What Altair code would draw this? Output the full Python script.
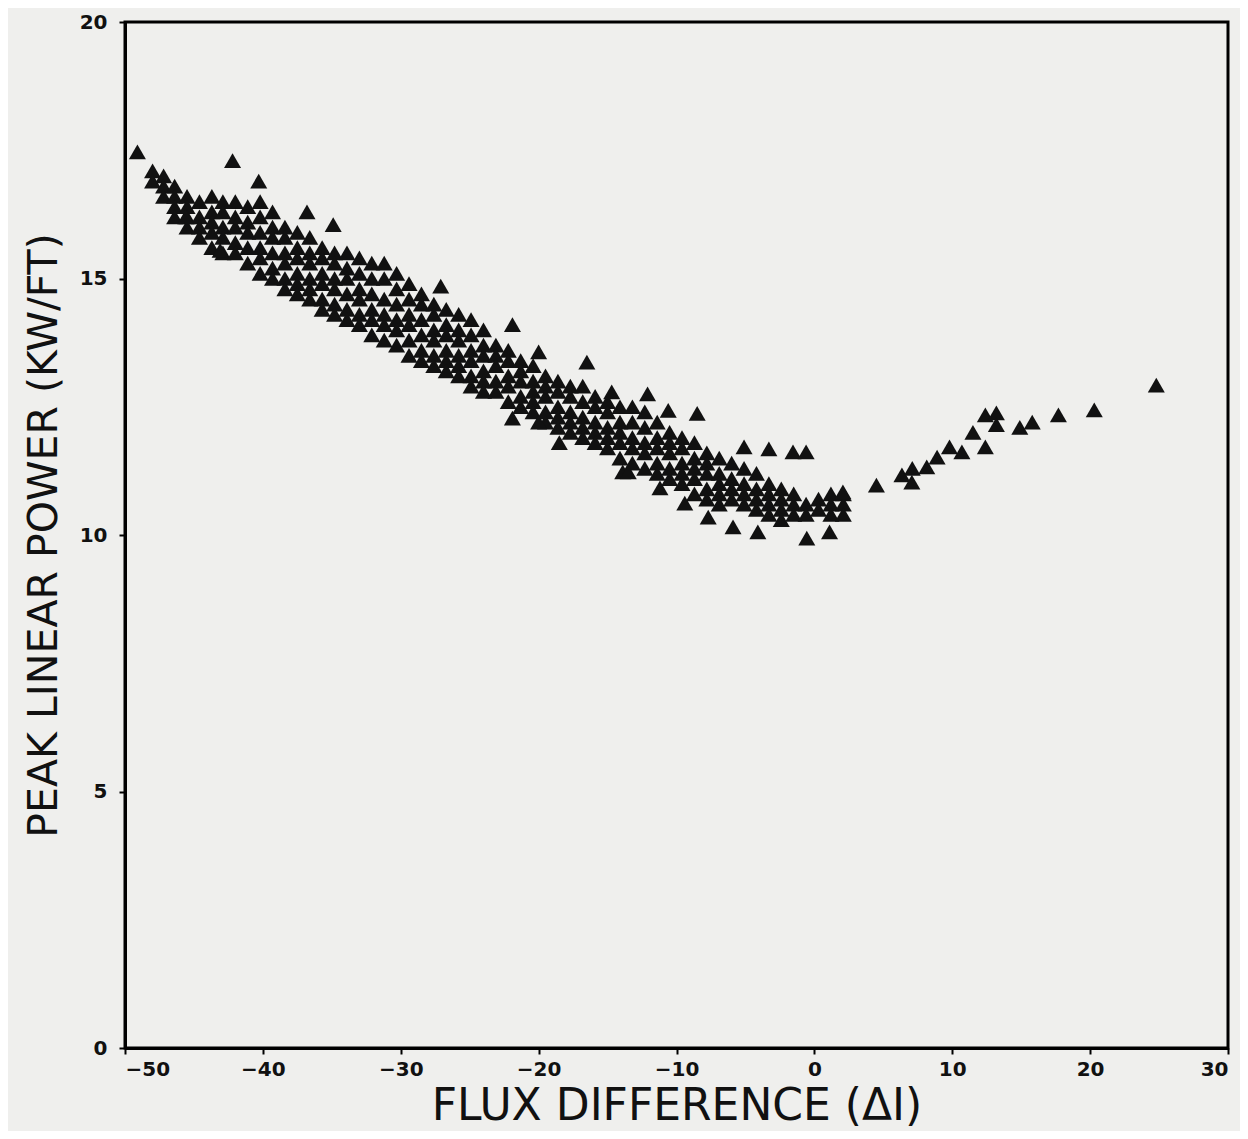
import altair as alt
import pandas as pd

# Isolated points (left branch, outside the dense band)
out_x = [-49.1, -42.2, -40.3, -36.8, -34.9, -43.1, -45.6, -27.1, -21.9, -20.0, -16.5,
         -12.1, -14.7, -10.6, -8.5, -5.1, -3.3, -1.55, -0.6,
         -21.9, -20.0, -18.5, -13.9, -13.5, -11.2, -9.4, -7.7, -5.9, -4.1, -0.55, 1.1]
out_y = [17.47, 17.3, 16.9, 16.3, 16.05, 15.55, 16.2, 14.85, 14.1, 13.57, 13.37,
         12.75, 12.79, 12.43, 12.37, 11.72, 11.68, 11.62, 11.62,
         12.28, 12.2, 11.8, 11.23, 11.23, 10.92, 10.62, 10.35, 10.16, 10.06, 9.94, 10.06]

# Right branch (positive flux difference)
right_x = [2.07, 4.5, 6.35, 7.1, 7.07, 8.15, 8.9, 9.8, 10.7, 11.5, 12.4, 12.4, 13.2, 13.2,
           14.9, 15.8, 17.7, 20.3, 24.8]
right_y = [10.84, 10.97, 11.17, 11.3, 11.03, 11.33, 11.52, 11.72, 11.62, 12.0, 11.72, 12.34,
           12.38, 12.15, 12.1, 12.2, 12.34, 12.44, 12.92]

# Dense band, read column by column
band_x = [-48.0, -47.2, -46.4, -45.5, -44.6, -43.7, -42.9, -42.0, -41.1, -40.2,
          -39.3, -38.4, -37.5, -36.6, -35.7, -34.8, -33.9, -33.0, -32.1, -31.2,
          -30.3, -29.4, -28.5, -27.6, -26.7, -25.8, -24.9, -24.0, -23.1, -22.2,
          -21.3, -20.4, -19.5, -18.6, -17.7, -16.8, -15.9, -15.0, -14.1, -13.2,
          -12.3, -11.4, -10.5, -9.6, -8.7, -7.8, -6.9, -6.0, -5.1, -4.2,
          -3.3, -2.4, -1.5, -0.6, 0.3, 1.2, 2.1]
band_y = [
    [17.1, 16.9],
    [17.0, 16.8, 16.6],
    [16.8, 16.6, 16.4, 16.2],
    [16.6, 16.4, 16.2, 16.0],
    [16.5, 16.2, 16.0, 15.8],
    [16.6, 16.3, 16.1, 15.9, 15.6],
    [16.5, 16.3, 16.0, 15.8, 15.5],
    [16.5, 16.2, 16.0, 15.7, 15.5],
    [16.4, 16.1, 15.9, 15.6, 15.3],
    [16.5, 16.2, 15.9, 15.6, 15.4, 15.1],
    [16.3, 16.0, 15.8, 15.5, 15.2, 15.0],
    [16.0, 15.8, 15.5, 15.3, 15.0, 14.8],
    [15.9, 15.6, 15.4, 15.1, 14.9, 14.7],
    [15.8, 15.5, 15.3, 15.0, 14.8, 14.6],
    [15.6, 15.4, 15.1, 14.9, 14.6, 14.4],
    [15.5, 15.3, 15.0, 14.8, 14.5, 14.3],
    [15.5, 15.2, 15.0, 14.7, 14.4, 14.2],
    [15.4, 15.1, 14.8, 14.6, 14.3, 14.1],
    [15.3, 15.0, 14.7, 14.4, 14.2, 13.9],
    [15.3, 15.0, 14.6, 14.3, 14.1, 13.8],
    [15.1, 14.8, 14.5, 14.2, 14.0, 13.7],
    [14.9, 14.6, 14.3, 14.1, 13.8, 13.5],
    [14.7, 14.5, 14.2, 13.9, 13.6, 13.4],
    [14.5, 14.3, 14.0, 13.8, 13.5, 13.3],
    [14.4, 14.1, 13.9, 13.6, 13.4, 13.2],
    [14.3, 14.0, 13.8, 13.5, 13.3, 13.1],
    [14.2, 13.9, 13.6, 13.4, 13.1, 12.9],
    [14.0, 13.7, 13.5, 13.2, 13.0, 12.8],
    [13.7, 13.5, 13.3, 13.0, 12.8],
    [13.6, 13.4, 13.1, 12.9, 12.6],
    [13.4, 13.2, 13.0, 12.7, 12.5],
    [13.3, 13.0, 12.8, 12.6, 12.4],
    [13.1, 12.9, 12.7, 12.4, 12.2],
    [13.0, 12.8, 12.5, 12.3, 12.1],
    [12.9, 12.7, 12.4, 12.2, 12.0],
    [12.9, 12.6, 12.3, 12.1, 11.9],
    [12.7, 12.5, 12.2, 12.0, 11.8],
    [12.6, 12.4, 12.1, 11.9, 11.7],
    [12.5, 12.2, 12.0, 11.8, 11.5],
    [12.5, 12.2, 11.9, 11.7, 11.4],
    [12.4, 12.1, 11.8, 11.6, 11.3],
    [12.2, 11.9, 11.7, 11.4, 11.2],
    [12.0, 11.8, 11.6, 11.3, 11.1],
    [11.9, 11.7, 11.4, 11.2, 11.0],
    [11.8, 11.5, 11.3, 11.1, 10.8],
    [11.6, 11.4, 11.2, 10.9, 10.7],
    [11.5, 11.2, 11.0, 10.8, 10.6],
    [11.4, 11.1, 10.9, 10.7],
    [11.3, 11.0, 10.8, 10.6],
    [11.2, 10.9, 10.7, 10.5],
    [11.0, 10.8, 10.6, 10.4],
    [10.9, 10.7, 10.5, 10.3],
    [10.8, 10.6, 10.4],
    [10.6, 10.4],
    [10.7, 10.5],
    [10.8, 10.6, 10.4],
    [10.8, 10.6, 10.4],
]

rows = []
for bx, ys in zip(band_x, band_y):
    for by in ys:
        rows.append({"dI": bx, "P": by})
for a, b in zip(out_x, out_y):
    rows.append({"dI": a, "P": b})
for a, b in zip(right_x, right_y):
    rows.append({"dI": a, "P": b})
df = pd.DataFrame(rows)

TITLE_FONT = "DejaVu Sans"
LABEL_FONT = "DejaVu Sans"

chart = alt.Chart(df).mark_point(
    shape="triangle-up", filled=True, color="#111", opacity=1, size=290
).encode(
    x=alt.X("dI:Q", scale=alt.Scale(domain=[-50, 30], nice=False, zero=False),
            axis=alt.Axis(title="FLUX DIFFERENCE (ΔI)", values=[-50, -40, -30, -20, -10, 0, 10, 20, 30],
                          grid=False, tickSize=6, labelPadding=5, titlePadding=5,
                          titleFontSize=44)),
    y=alt.Y("P:Q", scale=alt.Scale(domain=[0, 20], nice=False),
            axis=alt.Axis(title="PEAK LINEAR POWER (KW/FT)", values=[0, 5, 10, 15, 20],
                          grid=False, tickSize=6, labelPadding=12, titlePadding=14,
                          titleFontSize=41)),
).properties(
    width=1103, height=1026,
    autosize=alt.AutoSizeParams(type="none"),
    padding={"left": 117, "top": 14, "right": 12, "bottom": 83},
    background="#efefed",
).configure_view(
    stroke="black", strokeWidth=3
).configure_axis(
    domainColor="black", domainWidth=3, tickColor="black", tickWidth=2,
    labelFont=LABEL_FONT, labelFontSize=20, labelFontWeight="bold", labelColor="#111",
    titleFont=TITLE_FONT, titleFontWeight="normal", titleColor="#111",
)

chart.save("out.html", embed_options={"renderer": "svg", "actions": False})
